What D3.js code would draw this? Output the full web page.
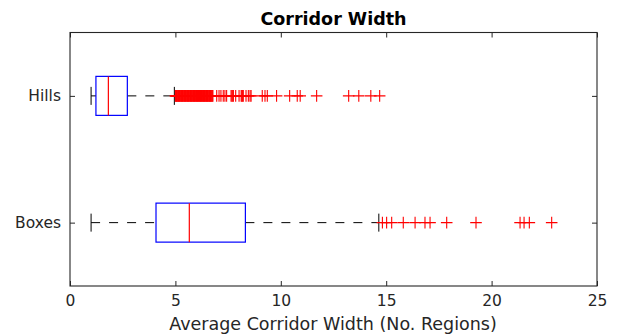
<!DOCTYPE html>
<html><head><meta charset="utf-8">
<script src="https://cdn.jsdelivr.net/npm/d3@7"></script>
<style>body{margin:0;background:#fff}svg{display:block}text{font-family:"DejaVu Sans",sans-serif}</style>
</head><body><svg id="c" width="621" height="335"></svg>
<script>
const categories = ["Boxes", "Hills"];
const whiskerLow = [1.0, 1.0];
const q1 = [4.08, 1.23];
const medians = [5.66, 1.82];
const q3 = [8.32, 2.72];
const whiskerHigh = [14.65, 4.95];
const outliersBoxes = [14.82, 15.02, 15.26, 15.81, 16.37, 16.84, 17.08, 17.87, 19.26, 21.35, 21.54, 21.79, 22.85];
const outliersHills = [5.0, 5.02, 5.05, 5.07, 5.09, 5.12, 5.14, 5.16, 5.19, 5.21, 5.23, 5.26, 5.28, 5.3, 5.33, 5.35, 5.37, 5.4, 5.42, 5.44, 5.47, 5.49, 5.51, 5.54, 5.56, 5.58, 5.61, 5.63, 5.65, 5.68, 5.7, 5.72, 5.75, 5.77, 5.79, 5.82, 5.84, 5.86, 5.89, 5.91, 5.93, 5.96, 5.98, 6.0, 6.03, 6.05, 6.07, 6.1, 6.12, 6.14, 6.17, 6.19, 6.21, 6.24, 6.26, 6.28, 6.31, 6.33, 6.35, 6.38, 6.4, 6.42, 6.45, 6.47, 6.49, 6.52, 6.54, 6.56, 6.59, 6.61, 6.63, 6.66, 6.68, 6.7, 6.73, 6.75, 6.78,
  6.96, 7.07, 7.16, 7.27, 7.35, 7.43, 7.64, 7.68, 7.72, 7.75, 7.86, 8.02, 8.12, 8.15, 8.19, 8.22, 8.35, 8.46, 8.54, 8.59,
  9.12, 9.25, 9.36, 9.8, 10.42, 10.78, 10.92, 11.7, 13.22, 13.7, 14.27, 14.69];
const outliers = [outliersBoxes, outliersHills];
const xTicks = [0, 5, 10, 15, 20, 25];
const titleText = "Corridor Width";
const xLabel = "Average Corridor Width (No. Regions)";

const svg = d3.select("#c");
const L = 70, R = 597, T = 32.5, B = 286;
const x = d3.scaleLinear().domain([0, 25]).range([L, R]);
const y = d3.scaleLinear().domain([0.5, 2.5]).range([B, T]);
const axisCol = "#262626";
const boxHalf = 19.5, capHalf = 9, mk = 5.8;

// axes
const gB = svg.append("g").attr("transform", `translate(0,${B})`)
  .call(d3.axisBottom(x).tickValues(xTicks).tickSize(-5).tickPadding(9));
const gT = svg.append("g").attr("transform", `translate(0,${T})`)
  .call(d3.axisTop(x).tickValues(xTicks).tickSize(-5).tickFormat(""));
const gL = svg.append("g").attr("transform", `translate(${L},0)`)
  .call(d3.axisLeft(y).tickValues([1, 2]).tickFormat((d, i) => categories[i]).tickSize(-5).tickPadding(9));
const gR = svg.append("g").attr("transform", `translate(${R},0)`)
  .call(d3.axisRight(y).tickValues([1, 2]).tickFormat("").tickSize(-5));
[gB, gT, gL, gR].forEach(g => {
  g.select(".domain").remove();
  g.selectAll(".tick line").attr("stroke", axisCol).attr("stroke-width", 1);
  g.selectAll(".tick text").attr("fill", axisCol).style("font-size", "15.5px").style("font-family", "DejaVu Sans");
});
gB.selectAll(".tick text").attr("dy", "0.71em");
svg.append("rect").attr("x", L).attr("y", T).attr("width", R - L).attr("height", B - T)
  .attr("fill", "none").attr("stroke", axisCol).attr("stroke-width", 1.1);

// boxes
categories.forEach((c, i) => {
  const yc = y(i + 1);
  const g = svg.append("g");
  g.append("line").attr("x1", x(whiskerLow[i])).attr("x2", x(q1[i])).attr("y1", yc).attr("y2", yc)
    .attr("stroke", "#000").attr("stroke-dasharray", "9,9");
  g.append("line").attr("x1", x(q3[i])).attr("x2", x(whiskerHigh[i])).attr("y1", yc).attr("y2", yc)
    .attr("stroke", "#000").attr("stroke-dasharray", "9,9");
  [whiskerLow[i], whiskerHigh[i]].forEach(v => {
    g.append("line").attr("x1", x(v)).attr("x2", x(v)).attr("y1", yc - capHalf).attr("y2", yc + capHalf)
      .attr("stroke", "#000").attr("stroke-width", 1);
  });
  g.append("rect").attr("x", x(q1[i])).attr("y", yc - boxHalf).attr("width", x(q3[i]) - x(q1[i])).attr("height", 2 * boxHalf)
    .attr("fill", "none").attr("stroke", "#0000ff").attr("stroke-width", 1.2);
  g.append("line").attr("x1", x(medians[i])).attr("x2", x(medians[i])).attr("y1", yc - boxHalf).attr("y2", yc + boxHalf)
    .attr("stroke", "#ff0000").attr("stroke-width", 1.2);
  g.selectAll("path.o").data(outliers[i]).enter().append("path").attr("class", "o")
    .attr("d", d => `M${x(d) - mk},${yc}H${x(d) + mk}M${x(d)},${yc - mk}V${yc + mk}`)
    .attr("stroke", "#ff0000").attr("stroke-width", 1.1).attr("fill", "none");
});

svg.append("text").attr("x", (L + R) / 2).attr("y", 25).attr("text-anchor", "middle")
  .style("font-size", "17.5px").style("font-weight", "bold").attr("fill", "#000").text(titleText);
svg.append("text").attr("x", (L + R) / 2 - 0.5).attr("y", 330).attr("text-anchor", "middle")
  .style("font-size", "17.5px").attr("fill", axisCol).text(xLabel);
</script></body></html>
